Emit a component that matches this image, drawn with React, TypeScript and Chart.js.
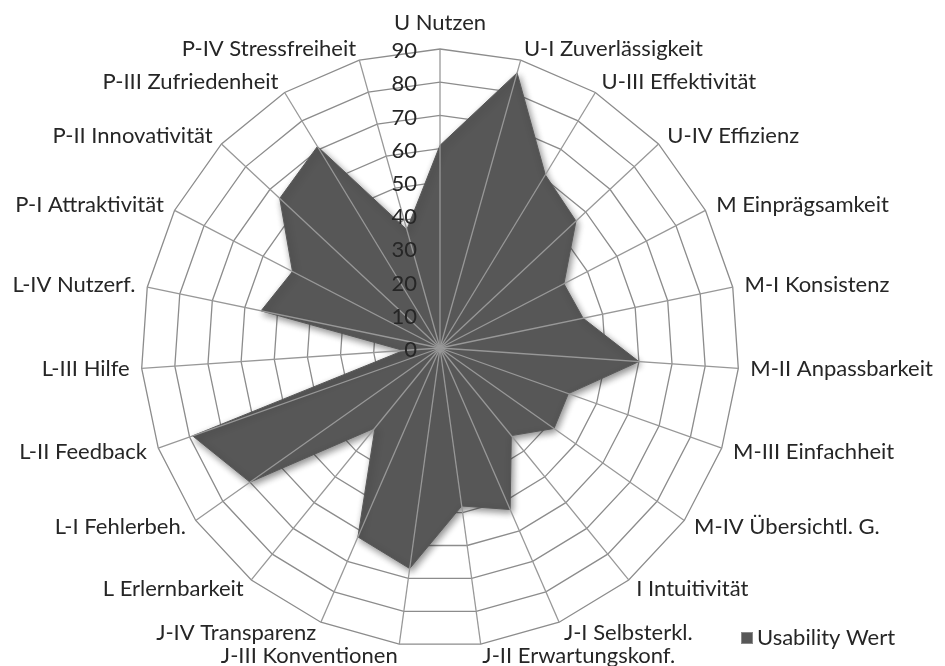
import { useEffect, useRef } from 'react';
import { Chart, registerables } from 'chart.js';

Chart.register(...registerables);

const categories = [
  'U Nutzen',
  'U-I Zuverlässigkeit',
  'U-III Effektivität',
  'U-IV Effizienz',
  'M Einprägsamkeit',
  'M-I Konsistenz',
  'M-II Anpassbarkeit',
  'M-III Einfachheit',
  'M-IV Übersichtl. G.',
  'I Intuitivität',
  'J-I Selbsterkl.',
  'J-II Erwartungskonf.',
  'J-III Konventionen',
  'J-IV Transparenz',
  'L Erlernbarkeit',
  'L-I Fehlerbeh.',
  'L-II Feedback',
  'L-III Hilfe',
  'L-IV Nutzerf.',
  'P-I Attraktivität',
  'P-II Innovativität',
  'P-III Zufriedenheit',
  'P-IV Stressfreiheit',
];

const usabilityValues = [61, 86, 61, 56, 42, 44, 60, 41, 42, 34, 53, 48, 67, 62, 31, 70, 79, 11, 55, 50, 66, 71, 37];

const seriesLabel = 'Usability Wert';
const scaleMin = 0;
const scaleMax = 90;
const scaleStep = 10;

const FONT_FAMILY = 'Lato, "Open Sans", sans-serif';
const FONT_SIZE = 22;
const TEXT_COLOR = '#262626';
const FILL_COLOR = '#575757';
const GRID_COLOR = '#8c8c8c';
const SPOKE_COLOR = '#989898';

const decorPlugin = {
  id: 'decor',
  beforeDatasetsDraw(chart: any) {
    const ctx = chart.ctx;
    ctx.save();
    ctx.shadowColor = 'rgba(0,0,0,0.45)';
    ctx.shadowBlur = 7;
    ctx.shadowOffsetX = 2;
    ctx.shadowOffsetY = 3;
  },
  afterDatasetsDraw(chart: any) {
    const ctx = chart.ctx;
    ctx.restore();
    const scale = chart.scales.r;
    ctx.save();
    ctx.strokeStyle = SPOKE_COLOR;
    ctx.lineWidth = 1.3;
    for (let i = 0; i < categories.length; i++) {
      const p = scale.getPointPosition(i, scale.drawingArea);
      ctx.beginPath();
      ctx.moveTo(scale.xCenter, scale.yCenter);
      ctx.lineTo(p.x, p.y);
      ctx.stroke();
    }
    ctx.restore();
  },
  afterDraw(chart: any) {
    const ctx = chart.ctx;
    const scale = chart.scales.r;
    ctx.save();
    ctx.font = `${FONT_SIZE}px ${FONT_FAMILY}`;
    ctx.fillStyle = TEXT_COLOR;

    // point labels
    categories.forEach((label, i) => {
      const angle = scale.getIndexAngle(i);
      const s = Math.sin(angle);
      const c = Math.cos(angle);
      const p = scale.getPointPosition(i, scale.drawingArea + 12);
      ctx.textBaseline = 'middle';
      let y = p.y;
      if (Math.abs(s) < 0.01) {
        ctx.textAlign = 'center';
        y = p.y - Math.sign(c) * 14;
      } else {
        ctx.textAlign = s > 0 ? 'left' : 'right';
      }
      ctx.fillText(label, p.x, y);
    });

    // tick labels
    ctx.textAlign = 'right';
    ctx.textBaseline = 'middle';
    scale.ticks.forEach((t: any) => {
      const p = scale.getPointPositionForValue(0, t.value);
      ctx.fillText(String(t.value), p.x - 23, p.y + 2);
    });

    // legend
    const ds = chart.data.datasets[0];
    const lx = 733;
    const ly = 630;
    ctx.fillStyle = ds.backgroundColor;
    ctx.fillRect(lx, ly - 6, 12, 12);
    ctx.strokeStyle = '#8a8a8a';
    ctx.lineWidth = 1;
    ctx.strokeRect(lx + 0.5, ly - 5.5, 11, 11);
    ctx.fillStyle = TEXT_COLOR;
    ctx.textAlign = 'left';
    ctx.fillText(ds.label, lx + 16, ly);
    ctx.restore();
  },
};

export default function App() {
  const canvasRef = useRef<HTMLCanvasElement | null>(null);

  useEffect(() => {
    const canvas = canvasRef.current;
    if (!canvas) return;
    const chart = new Chart(canvas, {
      type: 'radar',
      data: {
        labels: categories,
        datasets: [
          {
            label: seriesLabel,
            data: usabilityValues,
            backgroundColor: FILL_COLOR,
            borderColor: FILL_COLOR,
            borderWidth: 1,
            pointRadius: 0,
            fill: true,
          },
        ],
      },
      options: {
        responsive: false,
        animation: false,
        layout: { padding: { left: 133, right: 198, top: 41, bottom: 19 } },
        plugins: {
          legend: { display: false },
          tooltip: { enabled: false },
        },
        scales: {
          r: {
            min: scaleMin,
            max: scaleMax,
            ticks: { stepSize: scaleStep, display: false },
            grid: { color: GRID_COLOR, lineWidth: 1.3 },
            angleLines: { display: false },
            pointLabels: { display: false },
          },
        },
      },
      plugins: [decorPlugin],
    });
    return () => chart.destroy();
  }, []);

  return <canvas ref={canvasRef} width={929} height={658} style={{ display: 'block' }} />;
}
